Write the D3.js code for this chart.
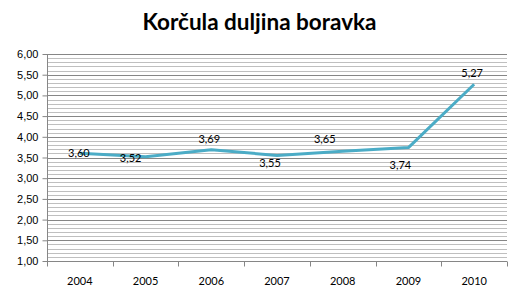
<!DOCTYPE html>
<html>
<head>
<meta charset="utf-8">
<script src="https://cdn.jsdelivr.net/npm/d3@7"></script>
<style>
  body { margin: 0; background: #fff; }
  svg { display: block; font-family: Lato, "Open Sans", sans-serif; }
</style>
</head>
<body>
<div id="chart"></div>
<script>
// data
const years = ['2004', '2005', '2006', '2007', '2008', '2009', '2010'];
const stayLength = [3.60, 3.52, 3.69, 3.55, 3.65, 3.74, 5.27];
const yTicks = [1, 1.5, 2, 2.5, 3, 3.5, 4, 4.5, 5, 5.5, 6];

// data labels were nudged by hand in the original, offsets from each point
const labelNudge = [[-1, 4], [-15, 5], [-2, -7], [-7, 12], [-18, -8], [-8, 21], [-2, -7]];

const width = 519, height = 297;
const margin = { top: 54, right: 12, bottom: 36, left: 47 };
const innerW = width - margin.left - margin.right;
const innerH = height - margin.top - margin.bottom;

const svg = d3.select('#chart').append('svg')
    .attr('width', width)
    .attr('height', height);

svg.append('text')
    .attr('x', width / 2)
    .attr('y', 30)
    .attr('text-anchor', 'middle')
    .style('font-size', '22.5px')
    .style('font-weight', 'bold')
    .attr('fill', '#000')
    .text('Korčula duljina boravka');

const g = svg.append('g')
    .attr('transform', `translate(${margin.left},${margin.top})`);

const x = d3.scaleBand().domain(years).range([0, innerW]);
const y = d3.scaleLinear().domain([1, 6]).range([innerH, 0]);

// minor gridlines every 0.1
const minor = d3.range(10, 61).map(v => v / 10).filter(v => Math.round(v * 10) % 5 !== 0);
g.selectAll('.minor')
    .data(minor)
    .join('line')
    .attr('x1', 0).attr('x2', innerW)
    .attr('y1', d => Math.round(y(d)) + 0.5)
    .attr('y2', d => Math.round(y(d)) + 0.5)
    .attr('stroke', '#bfbfbf')
    .attr('stroke-width', 1);

g.selectAll('.major')
    .data(yTicks.slice(1))
    .join('line')
    .attr('x1', 0).attr('x2', innerW)
    .attr('y1', d => Math.round(y(d)) + 0.5)
    .attr('y2', d => Math.round(y(d)) + 0.5)
    .attr('stroke', '#868686')
    .attr('stroke-width', 1);

// Y axis
const yAxis = g.append('g')
    .attr('transform', 'translate(0.5,0)')
    .call(d3.axisLeft(y).tickValues(yTicks).tickSize(5).tickPadding(4)
        .tickFormat(d => d3.format('.2f')(d).replace('.', ',')));
yAxis.select('.domain').attr('stroke', '#868686').attr('d', `M0,${innerH}V0`);
yAxis.selectAll('line').attr('stroke', '#868686');
yAxis.selectAll('text').style('font-size', '11px').attr('fill', '#000');

// X axis, ticks sit between categories
const xAxis = g.append('g')
    .attr('transform', `translate(0,${Math.round(innerH) + 0.5})`);
xAxis.append('line')
    .attr('x1', 0).attr('x2', innerW)
    .attr('stroke', '#868686');
xAxis.selectAll('.tick')
    .data(d3.range(years.length + 1))
    .join('line')
    .attr('x1', i => Math.round(i * x.step()) + 0.5)
    .attr('x2', i => Math.round(i * x.step()) + 0.5)
    .attr('y1', 0).attr('y2', 5)
    .attr('stroke', '#868686');
xAxis.selectAll('text')
    .data(years)
    .join('text')
    .attr('x', d => x(d) + x.bandwidth() / 2)
    .attr('y', 23)
    .attr('text-anchor', 'middle')
    .style('font-size', '11px')
    .attr('fill', '#000')
    .text(d => d);

// line
const cx = d => x(d) + x.bandwidth() / 2;
const line = d3.line()
    .x((d, i) => cx(years[i]))
    .y(d => y(d));

g.append('path')
    .datum(stayLength)
    .attr('d', line)
    .attr('fill', 'none')
    .attr('stroke', '#4bacc6')
    .attr('stroke-width', 3)
    .attr('stroke-linejoin', 'round');

// data labels
g.selectAll('.lbl')
    .data(stayLength)
    .join('text')
    .attr('x', (d, i) => cx(years[i]) + labelNudge[i][0])
    .attr('y', (d, i) => y(d) + labelNudge[i][1])
    .attr('text-anchor', 'middle')
    .style('font-size', '11px')
    .attr('fill', '#000')
    .text(d => d3.format('.2f')(d).replace('.', ','));
</script>
</body>
</html>
